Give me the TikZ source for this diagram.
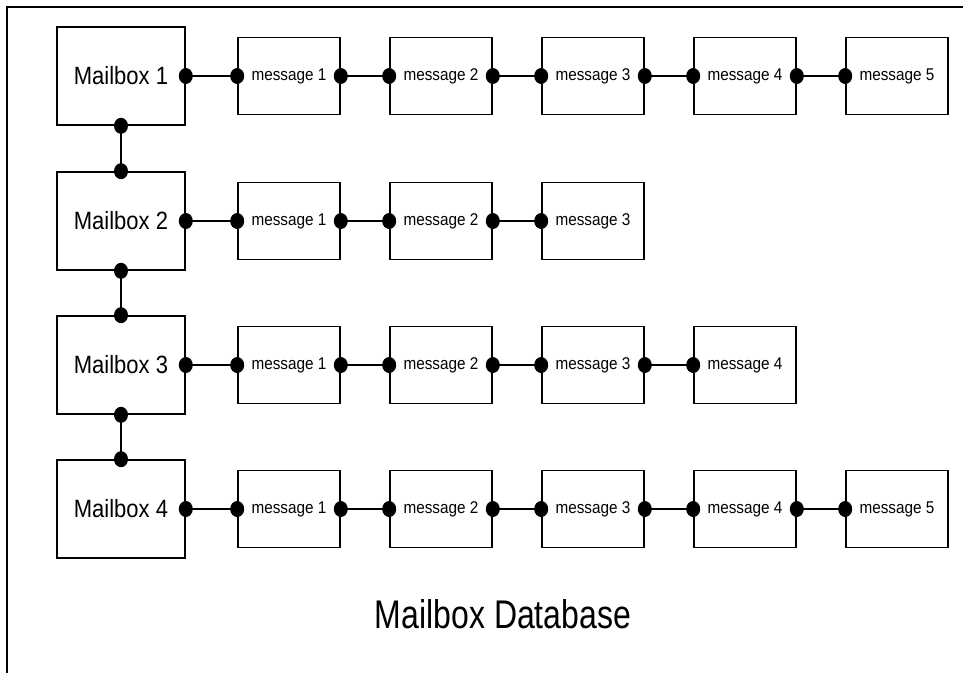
\documentclass[tikz,border=0pt]{standalone}
\usepackage{fontspec}
\setmainfont{Liberation Sans}
\begin{document}
\begin{tikzpicture}[x=1pt,y=-1pt,
  mbox/.style={draw,line width=1.6pt,minimum width=128pt,minimum height=98pt,inner sep=0pt,
    font=\fontsize{25}{27}\selectfont},
  msgbox/.style={draw,line width=1.6pt,minimum width=102pt,minimum height=77pt,inner sep=0pt,
    font=\fontsize{17}{19}\selectfont},
  link/.style={line width=1.6pt},
  dot/.style={fill=black}]
\useasboundingbox (0,0) rectangle (963,673);
% frame
\draw[line width=1.4pt] (7,673) -- (7,7) -- (963,7);
% mailboxes
\foreach \i/\yc in {1/76,2/221,3/365,4/509}{
  \node[mbox] (mb\i) at (121,\yc) {\scalebox{0.88}[1]{Mailbox \i}};
}
% messages
\foreach \i/\yc/\n in {1/76/5,2/221/3,3/365/4,4/509/5}{
  \foreach \j in {1,...,\n}{
    \node[msgbox] (m\i\j) at ({289+152*(\j-1)},\yc) {\scalebox{0.9}[1]{message \j}};
  }
}
% horizontal links
\foreach \i/\n in {1/5,2/3,3/4,4/5}{
  \draw[link] (mb\i.east) -- (m\i1.west);
  \fill[dot] (mb\i.east) ellipse (7 and 8);
  \fill[dot] (m\i1.west) ellipse (7 and 8);
  \foreach \j [evaluate=\j as \k using int(\j+1)] in {1,...,\n}{
    \ifnum\j<\n
      \draw[link] (m\i\j.east) -- (m\i\k.west);
      \fill[dot] (m\i\j.east) ellipse (7 and 8);
      \fill[dot] (m\i\k.west) ellipse (7 and 8);
    \fi
  }
}
% vertical links
\foreach \i/\k in {1/2,2/3,3/4}{
  \draw[link] (mb\i.south) -- (mb\k.north);
  \fill[dot] (mb\i.south) ellipse (7 and 8);
  \fill[dot] (mb\k.north) ellipse (7 and 8);
}
\node[font=\fontsize{40}{42}\selectfont] (title) at (503,614) {\scalebox{0.8}[1]{Mailbox Database}};
\end{tikzpicture}
\end{document}
